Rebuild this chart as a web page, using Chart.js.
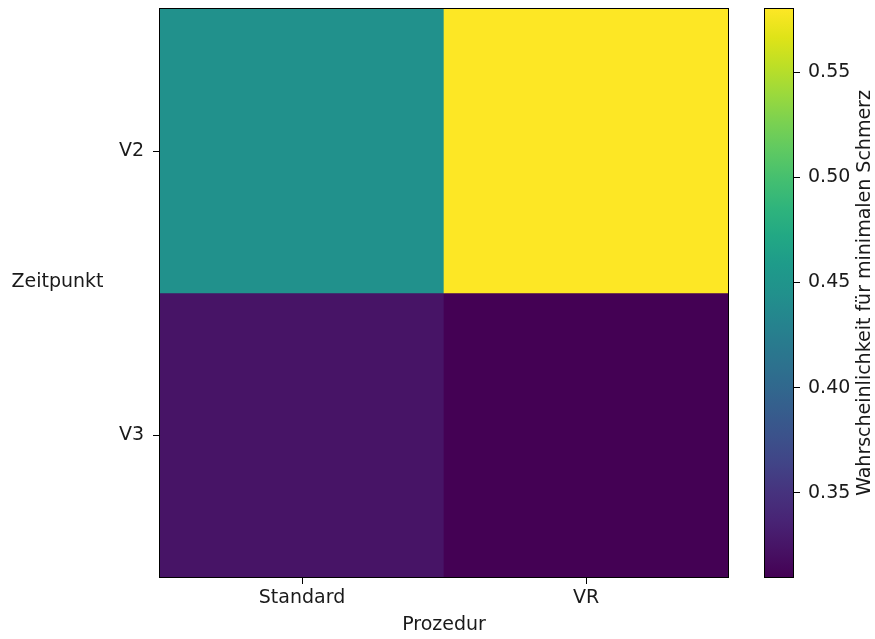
<!DOCTYPE html>
<html><head><meta charset="utf-8">
<script src="https://cdn.jsdelivr.net/npm/chart.js@4.4.0/dist/chart.umd.min.js"></script>
<style>
html,body{margin:0;padding:0;background:#fff;width:875px;height:639px;overflow:hidden}
#main{position:absolute;left:0;top:0}
#cbar{position:absolute;left:740px;top:0}
</style></head><body>
<canvas id="main" width="740" height="639"></canvas>
<canvas id="cbar" width="135" height="639"></canvas>
<script>
// ---- data ----
const procedures = ['Standard', 'VR'];
const timepoints = ['V2', 'V3'];
const probV2 = [0.445, 0.580];
const probV3 = [0.324, 0.310];
const colorbarTicks = [0.35, 0.40, 0.45, 0.50, 0.55];
const xTitle = 'Prozedur';
const yTitle = 'Zeitpunkt';
const cbTitle = 'Wahrscheinlichkeit für minimalen Schmerz';

// ---- viridis colormap ----
const viridisStops = ['#440154','#471365','#482475','#46337e','#414487','#3b528b','#355f8d','#2f6c8e','#2a788e','#25848e','#21918c','#1e9b8a','#22a884','#2fb47c','#44bf70','#5ec962','#7ad151','#9bd93c','#bddf26','#dfe318','#fde725'];
function hex2rgb(h){return [parseInt(h.slice(1,3),16),parseInt(h.slice(3,5),16),parseInt(h.slice(5,7),16)];}
function viridis(t){
  t = Math.max(0, Math.min(1, t));
  const n = viridisStops.length - 1;
  const p = t * n, i = Math.min(Math.floor(p), n - 1), f = p - i;
  const a = hex2rgb(viridisStops[i]), b = hex2rgb(viridisStops[i+1]);
  const c = a.map((v,k)=>Math.round(v + (b[k]-v)*f));
  return `rgb(${c[0]},${c[1]},${c[2]})`;
}
const rows = [probV2, probV3];
const all = rows.flat();
const vMin = Math.min(...all), vMax = Math.max(...all);
const norm = v => (v - vMin) / (vMax - vMin);

const TEXT = '#1a1a1a';
const FONT = {family: '"DejaVu Sans", sans-serif', size: 19};
Chart.defaults.font.family = FONT.family;
Chart.defaults.font.size = FONT.size;
Chart.defaults.color = TEXT;

const framePlugin = {
  id: 'frame',
  afterDraw(chart) {
    const {ctx, chartArea: a} = chart;
    ctx.save();
    ctx.strokeStyle = '#000';
    ctx.lineWidth = 1;
    ctx.strokeRect(Math.round(a.left) - 0.5, Math.round(a.top) - 0.5, Math.round(a.right - a.left) + 1, Math.round(a.bottom - a.top) + 1);
    ctx.restore();
  }
};

const yTitlePlugin = {
  id: 'ytitle',
  afterDraw(chart) {
    const {ctx, chartArea: a} = chart;
    ctx.save();
    ctx.fillStyle = TEXT;
    ctx.font = `${FONT.size}px ${FONT.family}`;
    ctx.textAlign = 'center';
    ctx.textBaseline = 'middle';
    ctx.fillText(yTitle, 57.5, (a.top + a.bottom) / 2 - 11);
    ctx.restore();
  }
};

const noPad = s => { s.paddingTop = 0; s.paddingBottom = 0; };

new Chart(document.getElementById('main'), {
  type: 'bar',
  data: {
    labels: procedures,
    datasets: timepoints.map((t, i) => ({
      label: t,
      data: rows[i].map(() => [i - 0.5, i + 0.5]),
      backgroundColor: rows[i].map(v => viridis(norm(v))),
      grouped: false,
      barPercentage: 1,
      categoryPercentage: 1,
      borderWidth: 0
    }))
  },
  options: {
    responsive: false,
    animation: false,
    layout: {padding: {left: 0, top: 9, right: 12, bottom: 0}},
    plugins: {legend: {display: false}, tooltip: {enabled: false}},
    scales: {
      x: {
        type: 'category',
        offset: true,
        grid: {display: true, offset: false, drawOnChartArea: false, tickLength: 7, color: '#000'},
        border: {display: true, color: '#000'},
        ticks: {color: TEXT, padding: 3, maxRotation: 0},
        title: {display: true, text: xTitle, color: TEXT, padding: {top: 0, bottom: 3}},
        afterFit: s => { s.height = 62; s.paddingLeft = 0; s.paddingRight = 0; }
      },
      y: {
        type: 'linear',
        min: -0.5, max: 1.5, reverse: true,
        afterBuildTicks: s => { s.ticks = timepoints.map((t, i) => ({value: i})); },
        grid: {display: true, drawOnChartArea: false, tickLength: 7, color: '#000'},
        border: {display: true, color: '#000'},
        ticks: {color: TEXT, padding: 9, callback: v => timepoints[v]},
        afterFit: s => { s.width = 160; noPad(s); }
      }
    }
  },
  plugins: [framePlugin, yTitlePlugin]
});

const cbTitlePlugin = {
  id: 'cbtitle',
  afterDraw(chart) {
    const {ctx, chartArea: a} = chart;
    ctx.save();
    ctx.fillStyle = TEXT;
    ctx.font = `${FONT.size}px ${FONT.family}`;
    ctx.textAlign = 'center';
    ctx.textBaseline = 'middle';
    ctx.translate(125, (a.top + a.bottom) / 2);
    ctx.rotate(-Math.PI / 2);
    ctx.fillText(cbTitle, 0, 0);
    ctx.restore();
  }
};

new Chart(document.getElementById('cbar'), {
  type: 'bar',
  data: {
    labels: [''],
    datasets: [{
      data: [[vMin, vMax]],
      backgroundColor: (c) => {
        const a = c.chart.chartArea;
        if (!a) return viridis(0.5);
        const g = c.chart.ctx.createLinearGradient(0, a.bottom, 0, a.top);
        viridisStops.forEach((s, i) => g.addColorStop(i / (viridisStops.length - 1), s));
        return g;
      },
      barPercentage: 1,
      categoryPercentage: 1,
      borderWidth: 0
    }]
  },
  options: {
    responsive: false,
    animation: false,
    layout: {padding: {left: 25, top: 9, right: 0, bottom: 62}},
    plugins: {legend: {display: false}, tooltip: {enabled: false}},
    scales: {
      x: {display: false},
      y: {
        type: 'linear',
        position: 'right',
        min: vMin, max: vMax,
        afterBuildTicks: s => { s.ticks = colorbarTicks.map(v => ({value: v})); },
        grid: {display: true, drawOnChartArea: false, tickLength: 7, color: '#000'},
        border: {display: true, color: '#000'},
        ticks: {color: TEXT, padding: 8, callback: v => v.toFixed(2)},
        afterFit: s => { s.width = 82; noPad(s); }
      }
    }
  },
  plugins: [framePlugin, cbTitlePlugin]
});
</script>
</body></html>
